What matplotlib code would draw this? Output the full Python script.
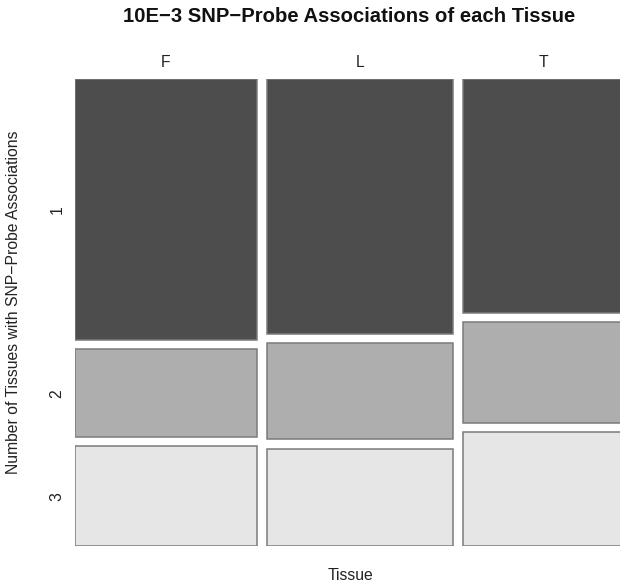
import matplotlib.pyplot as plt
from matplotlib.patches import Rectangle

plt.rcParams['font.family'] = ['Liberation Sans', 'DejaVu Sans']

tissues = ['F', 'L', 'T']
n_tissues = ['1', '2', '3']
# counts of SNP-probe associations (rows: number of tissues, cols: tissue)
counts = [
    [2008, 1998, 1579],
    [676, 757, 682],
    [766, 765, 770],
]
colors = ['#4D4D4D', '#AEAEAE', '#E6E6E6']

W, H = 620, 583
fig = plt.figure(figsize=(W / 100, H / 100), dpi=100)

# plot region in pixels (right side runs slightly past the image edge)
left_px, right_px, top_px, bottom_px = 74.7, 623, 79, 546
ax = fig.add_axes([left_px / W, (H - bottom_px) / H,
                   (right_px - left_px) / W, (bottom_px - top_px) / H])
ax.set_xlim(0, 1)
ax.set_ylim(0, 1)
ax.axis('off')

gap_x = 10 / (right_px - left_px)
gap_y = 9.3 / (bottom_px - top_px)

col_tot = [sum(counts[r][c] for r in range(len(n_tissues))) for c in range(len(tissues))]
grand = sum(col_tot)
avail_x = 1 - gap_x * (len(tissues) - 1)
avail_y = 1 - gap_y * (len(n_tissues) - 1)

base = 11.3
x = 0
for c, tis in enumerate(tissues):
    w = avail_x * col_tot[c] / grand
    y = 1
    for r in range(len(n_tissues)):
        h = avail_y * counts[r][c] / col_tot[c]
        ax.add_patch(Rectangle((x, y - h), w, h, facecolor=colors[r],
                               edgecolor='#7A7A7A', linewidth=1.1))
        if c == 0:
            ax.text(-0.032, y - h / 2, n_tissues[r], rotation=90,
                    ha='center', va='center', fontsize=base, color='#222222',
                    clip_on=False)
        y -= h + gap_y
    ax.text(x + w / 2, 1.036, tis, ha='center', va='center', fontsize=base,
            color='#222222', clip_on=False)
    x += w + gap_x

fig.text(349 / W, 1 - 17 / H, '10E\u22123 SNP\u2212Probe Associations of each Tissue',
         ha='center', va='center', fontsize=14.6, fontweight='bold', color='#111111')
fig.text(351 / W, 1 - 575 / H, 'Tissue', ha='center', va='center',
         fontsize=base, color='#222222')
fig.text(14 / W, 1 - 302 / H, 'Number of Tissues with SNP\u2212Probe Associations',
         rotation=90, ha='center', va='center', fontsize=base, color='#222222')

fig.savefig('out.png', dpi=100)
